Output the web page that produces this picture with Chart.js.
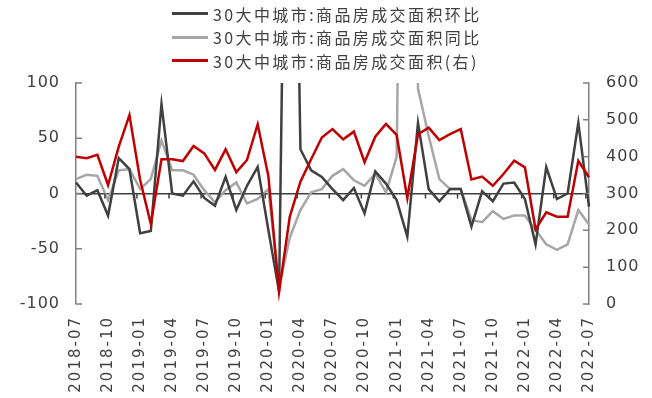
<!DOCTYPE html>
<html>
<head>
<meta charset="utf-8">
<script src="https://cdn.jsdelivr.net/npm/chart.js@4"></script>
<style>
  html, body { margin: 0; padding: 0; background: #ffffff; }
  #wrap { position: relative; width: 652px; height: 398px; }
  #c { position: absolute; left: 0; top: 0; }
  #legend { position: absolute; left: 172px; top: 2px; font-family: "Noto Sans CJK SC", sans-serif; font-size: 16px; color: #404040; letter-spacing: 2.4px; }
  .item { height: 23.5px; display: flex; align-items: center; white-space: nowrap; }
  .swatch { width: 36px; height: 3px; margin-right: 5px; }
</style>
</head>
<body>
<div id="wrap">
  <canvas id="c" width="652" height="398"></canvas>
  <div id="legend"></div>
</div>
<script>
const categories = [
  "2018-07","2018-08","2018-09","2018-10","2018-11","2018-12",
  "2019-01","2019-02","2019-03","2019-04","2019-05","2019-06",
  "2019-07","2019-08","2019-09","2019-10","2019-11","2019-12",
  "2020-01","2020-02","2020-03","2020-04","2020-05","2020-06",
  "2020-07","2020-08","2020-09","2020-10","2020-11","2020-12",
  "2021-01","2021-02","2021-03","2021-04","2021-05","2021-06",
  "2021-07","2021-08","2021-09","2021-10","2021-11","2021-12",
  "2022-01","2022-02","2022-03","2022-04","2022-05","2022-06",
  "2022-07"
];
const momValues = [10,-2,3,-20,32,22,-36,-34,81,0,-2,11,-4,-11,15,-15,7,24,-33,-89,618,40,21,15,4,-6,5,-18,20,9,-6,-39,64,4,-7,4,4,-30,2,-7,9,10,-5,-46,24,-5,0,64,-12];
const yoyValues = [13,17,16,-6,21,22,4,13,48,21,21,17,3,-8,3,10,-9,-5,4,-85,-40,-15,1,4,16,22,12,7,18,1,33,770,95,52,13,4,4,-24,-26,-16,-23,-20,-20,-33,-46,-51,-46,-15,-28];
const areaValues = [400,396,405,323,427,513,337,217,393,393,388,429,409,364,420,358,391,488,347,33,237,332,393,452,475,447,468,385,454,489,459,287,461,479,445,461,475,338,346,321,353,389,371,203,249,237,237,389,344];
const seriesNames = ["30大中城市:商品房成交面积环比","30大中城市:商品房成交面积同比","30大中城市:商品房成交面积(右)"];
const leftTicks = [-100,-50,0,50,100];
const rightTicks = [0,100,200,300,400,500,600];

const colors = ["#404040","#A6A6A6","#C00000"];

// HTML legend (real text)
const legendEl = document.getElementById('legend');
seriesNames.forEach((n, i) => {
  const d = document.createElement('div'); d.className = 'item';
  const s = document.createElement('span'); s.className = 'swatch'; s.style.background = colors[i];
  const t = document.createElement('span'); t.textContent = n;
  d.appendChild(s); d.appendChild(t); legendEl.appendChild(d);
});

const axisDecor = {
  id: 'axisDecor',
  beforeDraw(chart) { chart.ctx.letterSpacing = '1px'; },
  afterDraw(chart) {
    const ctx = chart.ctx;
    const ca = chart.chartArea;
    const yl = chart.scales.y, yr = chart.scales.y1, x = chart.scales.x;
    ctx.save();
    ctx.strokeStyle = '#808080';
    ctx.lineWidth = 1.5;
    ctx.beginPath();
    leftTicks.forEach(v => { const p = yl.getPixelForValue(v); ctx.moveTo(ca.left, p); ctx.lineTo(ca.left + 6, p); });
    rightTicks.forEach(v => { const p = yr.getPixelForValue(v); ctx.moveTo(ca.right, p); ctx.lineTo(ca.right - 6, p); });
    ctx.stroke();
    ctx.strokeStyle = '#404040';
    ctx.beginPath();
    const z = yl.getPixelForValue(0);
    const step = x.getPixelForValue(1) - x.getPixelForValue(0);
    for (let i = 3; i < categories.length; i += 3) {
      const px = x.getPixelForValue(i) - 0.3 * step;
      ctx.moveTo(px, z); ctx.lineTo(px, z + 5);
    }
    ctx.stroke();
    ctx.restore();
  }
};

new Chart(document.getElementById('c'), {
  type: 'line',
  data: {
    labels: categories,
    datasets: [
      { label: seriesNames[0], data: momValues, yAxisID: 'y', borderColor: colors[0], borderWidth: 2.5, pointRadius: 0, order: 1 },
      { label: seriesNames[1], data: yoyValues, yAxisID: 'y', borderColor: colors[1], borderWidth: 2.5, pointRadius: 0, order: 2 },
      { label: seriesNames[2], data: areaValues, yAxisID: 'y1', borderColor: colors[2], borderWidth: 2.5, pointRadius: 0, order: 0 }
    ]
  },
  options: {
    responsive: false,
    animation: false,
    events: [],
    layout: { padding: { top: 83, left: 0, right: 0, bottom: 0 } },
    plugins: { legend: { display: false }, tooltip: { enabled: false } },
    scales: {
      x: {
        offset: false,
        grid: { display: false, drawTicks: false },
        border: { display: false },
        afterFit(s) {
          s.height = 94;
          if (!s._lsWrapped) {
            const orig = s.drawLabels.bind(s);
            s.drawLabels = function (area) {
              const c = s.ctx; const prev = c.letterSpacing;
              c.letterSpacing = '2px'; orig(area); c.letterSpacing = prev;
            };
            s._lsWrapped = true;
          }
        },
        ticks: {
          autoSkip: false, minRotation: 90, maxRotation: 90, padding: 12,
          color: '#404040',
          font: { family: 'DejaVu Sans', size: 15 },
          callback(v, i) { return i % 3 === 0 ? categories[i] : ''; }
        }
      },
      y: {
        position: 'left', min: -100, max: 100,
        afterFit(s) { s.width = 76; },
        afterBuildTicks(s) { s.ticks = leftTicks.map(v => ({ value: v })); },
        border: { display: true, color: '#808080', width: 1.5 },
        grid: {
          drawTicks: false, drawOnChartArea: true,
          color: c => (c.tick && c.tick.value === 0) ? '#404040' : 'rgba(0,0,0,0)',
          lineWidth: 1.5
        },
        ticks: { padding: 16, color: '#404040', font: { family: 'DejaVu Sans', size: 16 } }
      },
      y1: {
        position: 'right', min: 0, max: 600,
        afterFit(s) { s.width = 63; },
        afterBuildTicks(s) { s.ticks = rightTicks.map(v => ({ value: v })); },
        border: { display: true, color: '#808080', width: 1.5 },
        grid: { drawTicks: false, drawOnChartArea: false },
        ticks: { padding: 17, color: '#404040', font: { family: 'DejaVu Sans', size: 16 } }
      }
    }
  },
  plugins: [axisDecor]
});
</script>
</body>
</html>
